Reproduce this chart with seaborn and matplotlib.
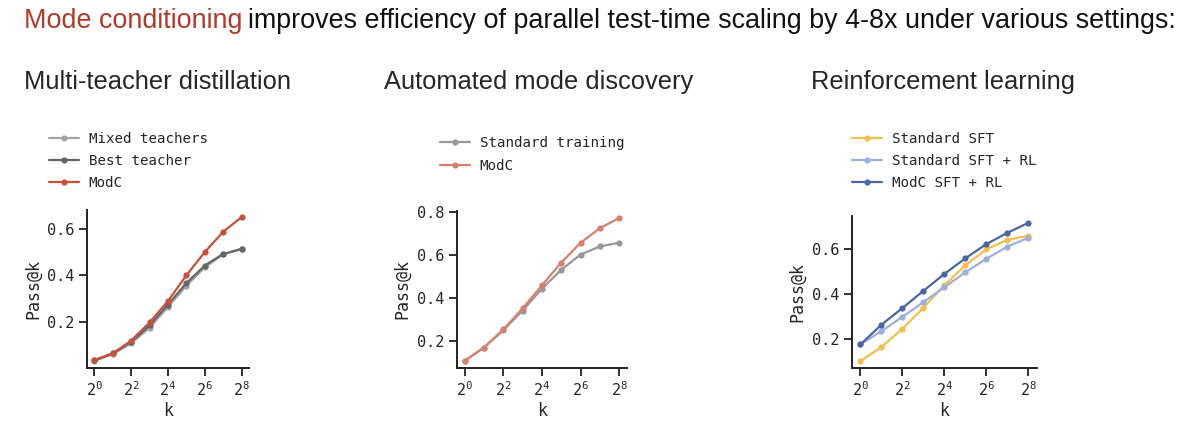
import numpy as np
import pandas as pd
import matplotlib
matplotlib.use("Agg")
import matplotlib.pyplot as plt
import seaborn as sns
from matplotlib.ticker import FixedLocator, NullLocator, LogFormatterSciNotation

# k values shared by all panels
k_values = [1, 2, 4, 8, 16, 32, 64, 128, 256]

# panel 1: multi-teacher distillation
mixed_teachers = [0.033, 0.062, 0.108, 0.175, 0.265, 0.355, 0.435, 0.490, 0.515]
best_teacher = [0.035, 0.065, 0.115, 0.185, 0.275, 0.367, 0.442, 0.492, 0.513]
modc_distill = [0.037, 0.065, 0.120, 0.198, 0.290, 0.400, 0.500, 0.587, 0.650]

# panel 2: automated mode discovery
standard_training = [0.106, 0.168, 0.248, 0.340, 0.441, 0.530, 0.600, 0.638, 0.655]
modc_discovery = [0.106, 0.168, 0.252, 0.350, 0.457, 0.563, 0.655, 0.723, 0.770]

# panel 3: reinforcement learning
standard_sft = [0.104, 0.166, 0.247, 0.340, 0.440, 0.528, 0.600, 0.641, 0.659]
standard_sft_rl = [0.178, 0.237, 0.300, 0.365, 0.431, 0.497, 0.557, 0.611, 0.650]
modc_sft_rl = [0.178, 0.265, 0.339, 0.415, 0.490, 0.559, 0.622, 0.672, 0.716]

W, H = 1199, 432

# title, series, colours, axes rect, legend anchor (px) + row spacing, title x (px)
panels = [
    ("Multi-teacher distillation",
     {"Mixed teachers": mixed_teachers, "Best teacher": best_teacher, "ModC": modc_distill},
     ["#a3a3a3", "#666666", "#c9503d"],
     [0.0726, 0.148, 0.135, 0.366], (49, 132, 0.55), 24),
    ("Automated mode discovery",
     {"Standard training": standard_training, "ModC": modc_discovery},
     ["#999999", "#d8806f"],
     [0.381, 0.148, 0.142, 0.364], (440, 135.5, 0.68), 384),
    ("Reinforcement learning",
     {"Standard SFT": standard_sft, "Standard SFT + RL": standard_sft_rl, "ModC SFT + RL": modc_sft_rl},
     ["#f3c04f", "#9db0d9", "#4b67a2"],
     [0.7106, 0.148, 0.154, 0.352], (852, 132, 0.55), 811),
]

sns.set_style("ticks")
plt.rcParams["font.family"] = ["DejaVu Sans Mono"]
plt.rcParams["mathtext.fontset"] = "custom"
plt.rcParams["mathtext.rm"] = "DejaVu Sans Mono"
plt.rcParams["mathtext.it"] = "DejaVu Sans Mono"

fig = plt.figure(figsize=(W / 100, H / 100), dpi=100)

for title, series, colors, rect, (lx, ly, lsp), tx in panels:
    ax = fig.add_axes(rect)
    df = pd.DataFrame(
        [(k, name, v) for name, vals in series.items() for k, v in zip(k_values, vals)],
        columns=["k", "method", "pass"],
    )
    sns.lineplot(data=df, x="k", y="pass", hue="method", hue_order=list(series.keys()),
                 palette=colors, marker="o", markersize=4.5, markeredgewidth=0,
                 linewidth=1.6, ax=ax)
    ax.set_xscale("log", base=2)
    ax.xaxis.set_major_locator(FixedLocator([1, 4, 16, 64, 256]))
    ax.xaxis.set_major_formatter(LogFormatterSciNotation(base=2))
    ax.xaxis.set_minor_locator(NullLocator())
    ax.yaxis.set_major_locator(FixedLocator([0.2, 0.4, 0.6, 0.8]))
    ax.set_xlabel("k", fontsize=12, labelpad=2)
    ax.set_ylabel("Pass@k", fontsize=12, labelpad=4)
    ax.tick_params(labelsize=11, length=5.5, width=1.3, color="#222222")
    for s in ["left", "bottom"]:
        ax.spines[s].set_linewidth(1.4)
        ax.spines[s].set_color("#222222")
    sns.despine(ax=ax)
    ax.legend(loc="upper left", bbox_to_anchor=(lx / W, 1 - ly / H),
              bbox_transform=fig.transFigure, frameon=False, fontsize=10.2,
              handlelength=2.1, handletextpad=0.7, labelspacing=lsp, borderpad=0,
              borderaxespad=0)
    fig.text(tx / W, 1 - 82 / H, title, fontsize=18.4, family="Liberation Sans",
             ha="left", va="center")

# headline with red lead-in
fig.canvas.draw()
r = fig.canvas.get_renderer()
t1 = fig.text(24 / W, 1 - 21 / H, "Mode conditioning", fontsize=19.4, family="Liberation Sans",
              color="#b23a2a", ha="left", va="center")
bb = t1.get_window_extent(renderer=r)
fig.text(bb.x1 / W + 0.005, 1 - 21 / H,
         "improves efficiency of parallel test-time scaling by 4-8x under various settings:",
         fontsize=19.4, family="Liberation Sans", color="#111111", ha="left", va="center")

fig.savefig("out.png", dpi=100)
